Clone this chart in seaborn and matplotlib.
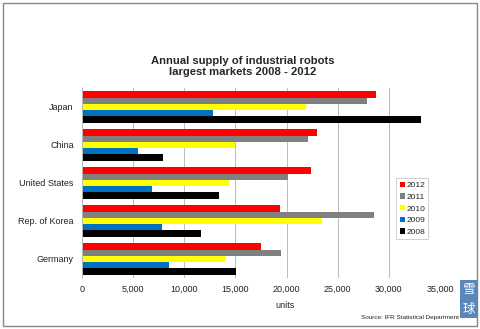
import matplotlib
matplotlib.use("Agg")
import matplotlib.pyplot as plt
import seaborn as sns
import pandas as pd
from matplotlib.patches import Rectangle

countries = ["Japan", "China", "United States", "Rep. of Korea", "Germany"]
years = ["2012", "2011", "2010", "2009", "2008"]
v2012 = [28700, 23000, 22400, 19400, 17500]
v2011 = [27900, 22100, 20100, 28500, 19500]
v2010 = [21900, 15000, 14400, 23500, 14000]
v2009 = [12800, 5500, 6800, 7800, 8500]
v2008 = [33100, 7900, 13400, 11600, 15100]
colors = ["#FF0000", "#808080", "#FFFF00", "#0070C0", "#000000"]
xticks = [0, 5000, 10000, 15000, 20000, 25000, 30000, 35000]
xticklabels = ["0", "5,000", "10,000", "15,000", "20,000", "25,000", "30,000", "35,000"]

rows = []
for y, vals in zip(years, [v2012, v2011, v2010, v2009, v2008]):
    for c, v in zip(countries, vals):
        rows.append({"country": c, "year": y, "units": v})
df = pd.DataFrame(rows)

sns.set_style("white")
plt.rcParams["font.family"] = ["Liberation Sans", "DejaVu Sans"]

fig = plt.figure(figsize=(4.8, 3.29), dpi=100)
ax = fig.add_axes([82/480, 1-278/329, (440-82)/480, (278-88)/329])

sns.barplot(data=df, y="country", x="units", hue="year", order=countries,
            hue_order=years, palette=colors, width=0.82, ax=ax,
            saturation=1, edgecolor="none", linewidth=0, legend=True)

ax.set_xlim(0, 35000)
ax.set_ylim(4.5, -0.5)
ax.set_xticks(xticks)
ax.set_xticklabels(xticklabels, fontsize=6.5, color="#222222")
ax.tick_params(axis="y", labelsize=6.5, colors="#222222", length=0, pad=6)
ax.tick_params(axis="x", length=0, pad=5)
ax.set_ylabel("")
ax.set_xlabel("")
ax.xaxis.grid(True, color="#BBBBBB", linewidth=0.7)
ax.set_axisbelow(True)
for s in ["top", "right", "bottom"]:
    ax.spines[s].set_visible(False)
ax.spines["left"].set_color("#BBBBBB")
ax.spines["left"].set_linewidth(0.7)

leg = ax.legend(loc="upper left", bbox_to_anchor=(392/480, 1-174/329),
                bbox_transform=fig.transFigure, fontsize=6, frameon=True,
                handlelength=0.6, handleheight=0.6, handletextpad=0.2,
                borderpad=0.4, labelspacing=0.5, fancybox=False)
leg.get_frame().set_edgecolor("#BBBBBB")
leg.get_frame().set_linewidth(0.6)

fig.text(243/480, 1-66.5/329, "Annual supply of industrial robots\nlargest markets 2008 - 2012",
         ha="center", va="center", fontsize=8.1, fontweight="bold", linespacing=1.2)
fig.text(285/480, 1-305/329, "units", ha="center", va="center", fontsize=6.5, color="#222222")
fig.text(459/480, 1-318/329, "Source: IFR Statistical Department", ha="right", va="center",
         fontsize=4.6, color="#222222")

fig.patches.append(Rectangle((3/480, 3/329), 474/480, 323/329, transform=fig.transFigure,
                             fill=False, edgecolor="#888888", linewidth=1.0))
fig.patches.append(Rectangle((460/480, 1-318/329), 18/480, 38/329, transform=fig.transFigure,
                             facecolor="#5B86B8", edgecolor="none"))
fig.text(469/480, 1-290/329, "雪", ha="center", va="center", fontsize=9, color="white",
         family=["Noto Sans CJK SC", "DejaVu Sans"])
fig.text(469/480, 1-309/329, "球", ha="center", va="center", fontsize=9, color="white",
         family=["Noto Sans CJK SC", "DejaVu Sans"])

fig.savefig("out.png", dpi=100)
